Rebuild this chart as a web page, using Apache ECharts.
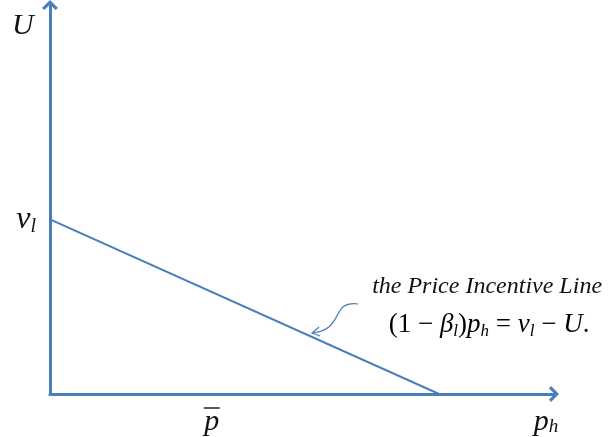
<!DOCTYPE html>
<html>
<head>
<meta charset="utf-8">
<script src="https://cdn.jsdelivr.net/npm/echarts@6/dist/echarts.min.js"></script>
<style>
  html, body { margin: 0; padding: 0; background: #fff; }
  #main { width: 610px; height: 437px; }
</style>
</head>
<body>
<div id="main"></div>
<script>
/* ---- data ---- */
var xRange = [0, 100];        // p_h axis range
var yRange = [0, 100];        // U axis range
var vlValue = 44.9;           // intercept on U axis (v_l)
var pBarValue = 32.1;         // position of p-bar on p_h axis
var lineX = [0, 77.2];        // price incentive line, p_h values
var lineY = [44.9, 0];        // price incentive line, U values
var arrowAtX = 52;            // where the annotation arrow points on the line

var blue = "#4a7ebb";
var serif = "Liberation Serif";
// chevron arrow head (points up, axis rotates it)
var chevron = "path://M0,10 L10,0 L20,10 L17,12.5 L10,5.5 L3,12.5 Z";

var dom = document.getElementById("main");
var myChart = echarts.init(dom);

var lineData = [];
for (var i = 0; i < lineX.length; i++) {
  lineData.push([lineX[i], lineY[i]]);
}

var option = {
  animation: false,
  grid: { left: 50, top: 5, right: 56, bottom: 43, containLabel: false },
  xAxis: {
    type: "value",
    min: xRange[0],
    max: xRange[1],
    splitLine: { show: false },
    axisTick: { show: false },
    axisLine: {
      show: true,
      symbol: ["none", chevron],
      symbolSize: [16, 11],
      lineStyle: { color: blue, width: 3 },
    },
    axisLabel: {
      show: true,
      customValues: [pBarValue],
      margin: 12,
      formatter: function () {
        return "{bar| }\n{p|p}";
      },
      rich: {
        bar: { width: 16, height: 1.5, backgroundColor: "#222", lineHeight: 4 },
        p: { fontFamily: serif, fontStyle: "italic", fontSize: 30, color: "#111", lineHeight: 24 },
      },
    },
  },
  yAxis: {
    type: "value",
    min: yRange[0],
    max: yRange[1],
    splitLine: { show: false },
    axisTick: { show: false },
    axisLine: {
      show: true,
      symbol: ["none", chevron],
      symbolSize: [16, 11],
      lineStyle: { color: blue, width: 3 },
    },
    axisLabel: {
      show: true,
      customValues: [vlValue],
      margin: 14,
      formatter: function () {
        return "{v|v}{s|l}";
      },
      rich: {
        v: { fontFamily: serif, fontStyle: "italic", fontSize: 32, color: "#111", lineHeight: 30 },
        s: { fontFamily: serif, fontStyle: "italic", fontSize: 20, color: "#111", lineHeight: 18, padding: [14, 0, 0, 0] },
      },
    },
  },
  series: [
    {
      name: "Price Incentive Line",
      type: "line",
      data: lineData,
      symbol: "none",
      lineStyle: { color: blue, width: 2 },
    },
  ],
};
myChart.setOption(option, true);

/* ---- labels and annotation, placed from data coordinates ---- */
var origin = myChart.convertToPixel({ gridIndex: 0 }, [xRange[0], yRange[1]]);
var xEnd = myChart.convertToPixel({ gridIndex: 0 }, [xRange[1], yRange[0]]);
var slope = (lineY[1] - lineY[0]) / (lineX[1] - lineX[0]);
var arrowY = lineY[0] + slope * (arrowAtX - lineX[0]);
var tip = myChart.convertToPixel({ gridIndex: 0 }, [arrowAtX, arrowY]);
var tx = tip[0], ty = tip[1] - 4;

var eqRich = {
  r: { fontFamily: serif, fontSize: 27, color: "#111", lineHeight: 30 },
  i: { fontFamily: serif, fontStyle: "italic", fontSize: 27, color: "#111", lineHeight: 30 },
  s: { fontFamily: serif, fontStyle: "italic", fontSize: 17, color: "#111", lineHeight: 16, padding: [14, 0, 0, 0] },
};

myChart.setOption({
  graphic: [
    {
      type: "text",
      left: origin[0] - 38,
      top: origin[1] + 6,
      style: { text: "U", fontFamily: serif, fontStyle: "italic", fontSize: 30, fill: "#111" },
    },
    {
      type: "text",
      x: xEnd[0] - 8,
      y: xEnd[1] + 28,
      style: {
        text: "{i|p}{s|h}",
        align: "center",
        verticalAlign: "middle",
        rich: {
          i: { fontFamily: serif, fontStyle: "italic", fontSize: 30, fill: "#111", lineHeight: 28 },
          s: { fontFamily: serif, fontStyle: "italic", fontSize: 19, fill: "#111", lineHeight: 18, padding: [10, 0, 0, 0] },
        },
      },
    },
    {
      type: "text",
      x: tx + 175,
      y: ty - 46,
      style: {
        text: "the Price Incentive Line",
        align: "center",
        verticalAlign: "middle",
        fontFamily: serif,
        fontStyle: "italic",
        fontSize: 24,
        fill: "#111",
      },
    },
    {
      type: "text",
      x: tx + 177,
      y: ty - 8,
      style: {
        text: "{r|(1 − }{i|β}{s|l}{r|)}{i|p}{s|h}{r| = }{i|v}{s|l}{r| − }{i|U}{r|.}",
        align: "center",
        verticalAlign: "middle",
        rich: eqRich,
      },
    },
    {
      type: "bezierCurve",
      shape: {
        x1: tx + 46, y1: ty - 29,
        cpx1: tx + 18, cpy1: ty - 33,
        cpx2: tx + 33, cpy2: ty - 3,
        x2: tx, y2: ty,
      },
      style: { stroke: blue, lineWidth: 1.2, fill: null },
    },
    {
      type: "polyline",
      shape: { points: [[tx + 7, ty - 6], [tx, ty], [tx + 8, ty + 3]] },
      style: { stroke: blue, lineWidth: 1.2, fill: null },
    },
  ],
});
</script>
</body>
</html>
